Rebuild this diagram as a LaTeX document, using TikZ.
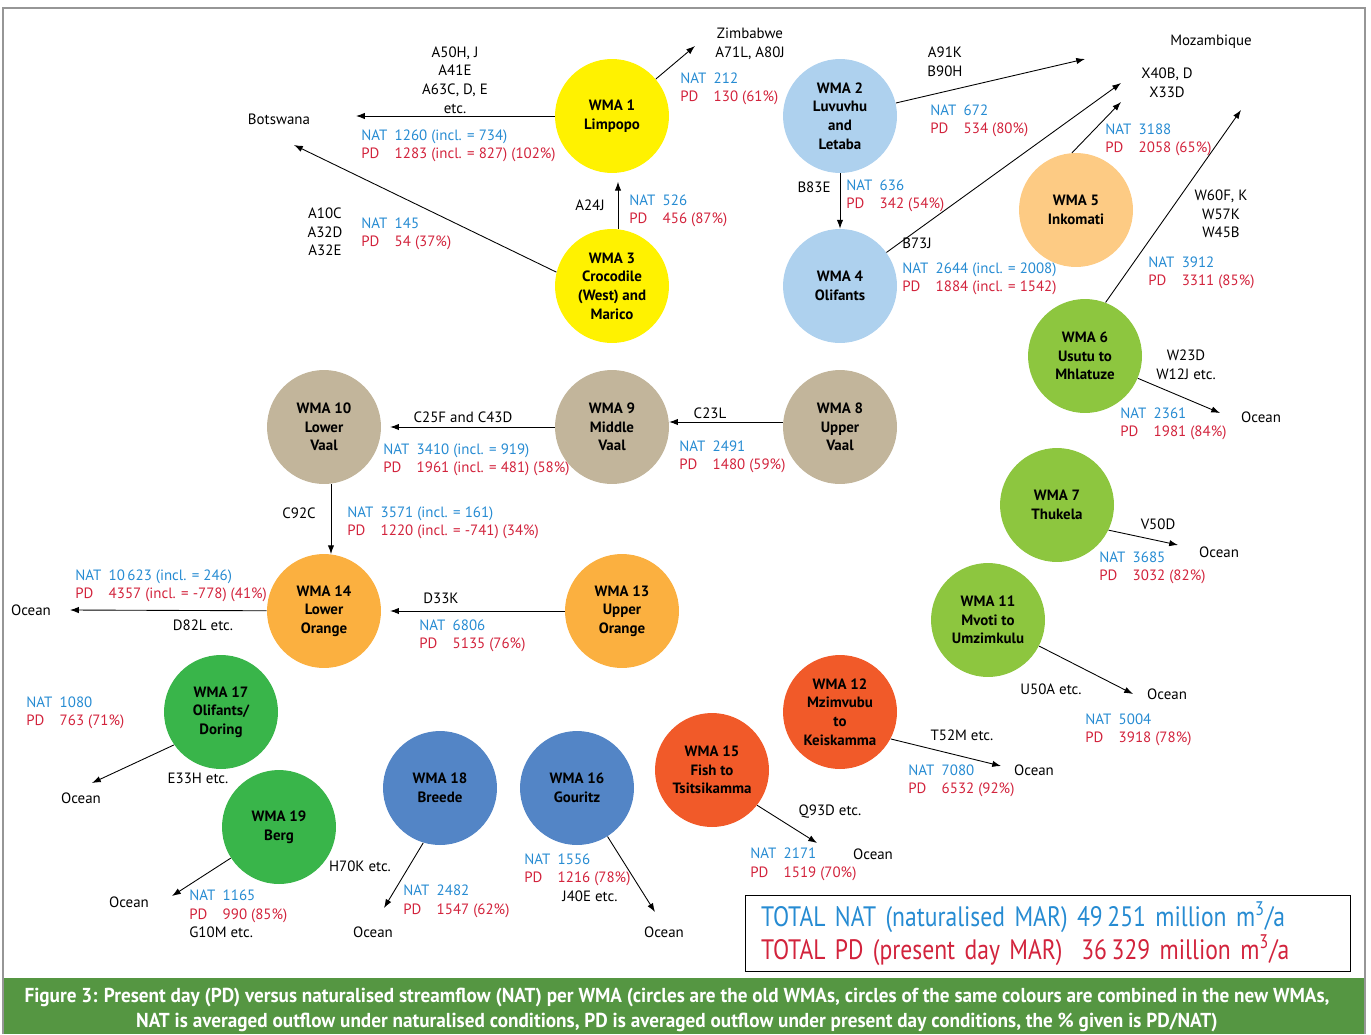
\documentclass[tikz,border=0pt]{standalone}
\usepackage{fontspec}
\setmainfont{PT Sans}
\newfontfamily\capfont[FakeStretch=0.95]{PT Sans}
\newfontfamily\totfont[FakeStretch=0.84]{PT Sans}
\usetikzlibrary{arrows.meta}
\definecolor{natc}{RGB}{38,139,210}
\definecolor{pdc}{RGB}{210,35,60}
\definecolor{yel}{RGB}{255,242,0}
\definecolor{lblue}{RGB}{174,209,238}
\definecolor{lorange}{RGB}{253,203,132}
\definecolor{lgreen}{RGB}{141,198,63}
\definecolor{tan}{RGB}{194,181,155}
\definecolor{orange}{RGB}{251,176,64}
\definecolor{dgreen}{RGB}{57,181,74}
\definecolor{mblue}{RGB}{83,133,198}
\definecolor{redor}{RGB}{241,90,41}
\definecolor{capc}{RGB}{85,150,66}
\definecolor{framec}{RGB}{150,150,150}
\newcommand\natpd[2]{\textcolor{natc}{\makebox[19pt][l]{NAT}#1}\\\textcolor{pdc}{\makebox[19pt][l]{PD}#2}}
\begin{document}
\begin{tikzpicture}[x=0.02cm,y=-0.02cm,font=\fontsize{8.5}{10.6}\selectfont]
\tikzset{flow/.style={-{Latex[length=5pt,width=3.6pt]},line width=0.5pt}}
\tikzstyle{wma}=[circle,minimum size=2.28cm,inner sep=0pt,align=center,font=\fontsize{8.5}{10.6}\selectfont\bfseries]
\tikzstyle{lbl}=[inner sep=0pt,align=center]
\tikzstyle{val}=[inner sep=0pt,align=left,anchor=west]
\useasboundingbox (0,0) rectangle (1371,1034);
\fill[capc] (4,978) rectangle (1365,1034);
\draw[framec,line width=1.2pt] (3,1034) -- (3,8) -- (1365,8) -- (1365,1034);
\node[wma,fill=yel] (w1)at(612,116){WMA 1\\Limpopo};
\node[wma,fill=yel] (w3)at(612,286){WMA 3\\Crocodile\\(West) and\\Marico};
\node[wma,fill=lblue] (w2)at(840,116){WMA 2\\Luvuvhu\\and\\Letaba};
\node[wma,fill=lblue] (w4)at(840,286){WMA 4\\Olifants};
\node[wma,fill=lorange] (w5)at(1076,210){WMA 5\\Inkomati};
\node[wma,fill=lgreen] (w6)at(1085,356){WMA 6\\Usutu to\\Mhlatuze};
\node[wma,fill=lgreen] (w7)at(1057,505){WMA 7\\Thukela};
\node[wma,fill=lgreen] (w11)at(988,620){WMA 11\\Mvoti to\\Umzimkulu};
\node[wma,fill=tan] (w10)at(324,427){WMA 10\\Lower\\Vaal};
\node[wma,fill=tan] (w9)at(612,427){WMA 9\\Middle\\Vaal};
\node[wma,fill=tan] (w8)at(840,427){WMA 8\\Upper\\Vaal};
\node[wma,fill=orange] (w14)at(324,611){WMA 14\\Lower\\Orange};
\node[wma,fill=orange] (w13)at(622,611){WMA 13\\Upper\\Orange};
\node[wma,fill=dgreen] (w17)at(221,712){WMA 17\\Olifants/\\Doring};
\node[wma,fill=dgreen] (w19)at(279,827){WMA 19\\Berg};
\node[wma,fill=mblue] (w18)at(440,788){WMA 18\\Breede};
\node[wma,fill=mblue] (w16)at(577,788){WMA 16\\Gouritz};
\node[wma,fill=redor] (w15)at(712,770){WMA 15\\Fish to\\Tsitsikamma};
\node[wma,fill=redor] (w12)at(840,712){WMA 12\\Mzimvubu\\to\\Keiskamma};
\coordinate (bw1)at(356,116);
\coordinate (bw2)at(294,145);
\coordinate (zw)at(695,46);
\coordinate (mz1)at(1085,59);
\coordinate (mz2)at(1121,83);
\coordinate (mz3)at(1121,102);
\coordinate (mz4)at(1241,110);
\coordinate (oc6)at(1220,413);
\coordinate (oc7)at(1178,545);
\coordinate (oc11)at(1133,694);
\coordinate (oc12)at(1001,766);
\coordinate (oc15)at(817,843);
\coordinate (oc16)at(655,912);
\coordinate (oc18)at(384,908);
\coordinate (oc19)at(172,896);
\coordinate (oc17)at(92,783);
\coordinate (oc14)at(70,610);
\draw[flow] (w1)--(bw1);
\draw[flow] (w1)--(zw);
\draw[flow] (w3.166)--(bw2);
\draw[flow,shorten >=5pt] (w3.84)--(w1.276);
\draw[flow] (w2)--(mz1);
\draw[flow] (w2)--(w4);
\draw[flow] (w4)--(mz2);
\draw[flow] (w5.94)--(mz3);
\draw[flow] (w6.69)--(mz4);
\draw[flow] (w6)--(oc6);
\draw[flow] (w7.-26)--(oc7);
\draw[flow] (w11)--(oc11);
\draw[flow] (w12.-28)--(oc12);
\draw[flow] (w15.-38)--(oc15);
\draw[flow] (w16)--(oc16);
\draw[flow] (w18.-107)--(oc18);
\draw[flow] (w19)--(oc19);
\draw[flow] (w17.-145)--(oc17);
\draw[flow] (w8.175)--(w9.5);
\draw[flow,shorten >=5pt] (w9)--(w10);
\draw[flow] (w10.-83)--(w14.83);
\draw[flow,shorten >=5pt] (w13)--(w14);
\draw[flow] (w14)--(oc14);
\node[lbl] (c1)at(455,80){A50H, J\\A41E\\A63C, D, E\\etc.};
\node[lbl] (bots)at(279,119){Botswana};
\node[lbl] (zimb)at(750,44){Zimbabwe\\A71L, A80J};
\node[lbl] (c3a)at(590,205){A24J};
\node[lbl] (c3b)at(325,232){A10C\\A32D\\A32E};
\node[lbl] (c2a)at(945,62){A91K\\B90H};
\node[lbl] (moz)at(1211,42){Mozambique};
\node[lbl] (c45)at(1167,83){X40B, D\\X33D};
\node[lbl] (c2b)at(814,187){B83E};
\node[lbl] (c4)at(917,243){B73J};
\node[lbl] (c6a)at(1221,214){W60F, K\\W57K\\W45B};
\node[lbl] (c6b)at(1186,365){W23D\\W12J etc.};
\node[lbl] (o6)at(1261,417){Ocean};
\node[lbl] (c7)at(1158,524){V50D};
\node[lbl] (o7)at(1219,552){Ocean};
\node[lbl] (c11)at(1051,689){U50A etc.};
\node[lbl] (o11)at(1167,694){Ocean};
\node[lbl] (c12)at(962,735){T52M etc.};
\node[lbl] (o12)at(1034,770){Ocean};
\node[lbl] (c15)at(830,812){Q93D etc.};
\node[lbl] (o15)at(873,854){Ocean};
\node[lbl] (c8)at(710,413){C23L};
\node[lbl] (c9)at(463,417){C25F and C43D};
\node[lbl] (c10)at(299,513){C92C};
\node[lbl] (c13)at(441,598){D33K};
\node[lbl] (c14)at(203,625){D82L etc.};
\node[lbl] (o14)at(31,610){Ocean};
\node[lbl] (c17)at(198,778){E33H etc.};
\node[lbl] (o17)at(81,798){Ocean};
\node[lbl] (o19)at(129,902){Ocean};
\node[val] (c19)at(189,932){G10M etc.};
\node[lbl] (c18)at(360,866){H70K etc.};
\node[lbl] (o18)at(373,932){Ocean};
\node[lbl] (c16)at(590,896){J40E etc.};
\node[lbl] (o16)at(664,932){Ocean};
\node[val] (v1a)at(361,146){\natpd{1260 (incl. = 734)}{1283 (incl. = 827) (102\%)}};
\node[val] (v1b)at(680,89){\natpd{212}{130 (61\%)}};
\node[val] (v3a)at(629,211){\natpd{526}{456 (87\%)}};
\node[val] (v3b)at(361,234){\natpd{145}{54 (37\%)}};
\node[val] (v2a)at(930,121){\natpd{672}{534 (80\%)}};
\node[val] (v2b)at(846,196){\natpd{636}{342 (54\%)}};
\node[val] (v4)at(902,279){\natpd{2644 (incl. = 2008)}{1884 (incl. = 1542)}};
\node[val] (v5)at(1105,140){\natpd{3188}{2058 (65\%)}};
\node[val] (v6a)at(1148,273){\natpd{3912}{3311 (85\%)}};
\node[val] (v6b)at(1120,424){\natpd{2361}{1981 (84\%)}};
\node[val] (v7)at(1099,568){\natpd{3685}{3032 (82\%)}};
\node[val] (v11)at(1085,730){\natpd{5004}{3918 (78\%)}};
\node[val] (v12)at(908,781){\natpd{7080}{6532 (92\%)}};
\node[val] (v15)at(750,864){\natpd{2171}{1519 (70\%)}};
\node[val] (v16)at(524,870){\natpd{1556}{1216 (78\%)}};
\node[val] (v18)at(403,901){\natpd{2482}{1547 (62\%)}};
\node[val] (v19)at(189,906){\natpd{1165}{990 (85\%)}};
\node[val] (v17)at(26,713){\natpd{1080}{763 (71\%)}};
\node[val] (v14)at(75,586){\natpd{10\,623 (incl. = 246)}{4357 (incl. = -778) (41\%)}};
\node[val] (v13)at(419,636){\natpd{6806}{5135 (76\%)}};
\node[val] (v10)at(347,523){\natpd{3571 (incl. = 161)}{1220 (incl. = -741) (34\%)}};
\node[val] (v9)at(383,460){\natpd{3410 (incl. = 919)}{1961 (incl. = 481) (58\%)}};
\node[val] (v8)at(679,457){\natpd{2491}{1480 (59\%)}};
\node[draw,line width=0.6pt,minimum width=12.12cm,minimum height=1.3cm,inner xsep=0.32cm,text width=11.48cm,align=left,font=\totfont\fontsize{16}{17.6}\selectfont] (tot)at(1048,933.5){\textcolor{natc}{TOTAL NAT (naturalised MAR) 49\,251 million m\textsuperscript{3}/a}\\\textcolor{pdc}{TOTAL PD (present day MAR)\ \ 36\,329 million m\textsuperscript{3}/a}};
\node[lbl,text=white,font=\capfont\bfseries\fontsize{11.5}{14.2}\selectfont] (cap)at(677,1010){Figure 3: Present day (PD) versus naturalised streamflow (NAT) per WMA (circles are the old WMAs, circles of the same colours are combined in the new WMAs,\\NAT is averaged outflow under naturalised conditions, PD is averaged outflow under present day conditions, the \% given is PD/NAT)};
\end{tikzpicture}
\end{document}
